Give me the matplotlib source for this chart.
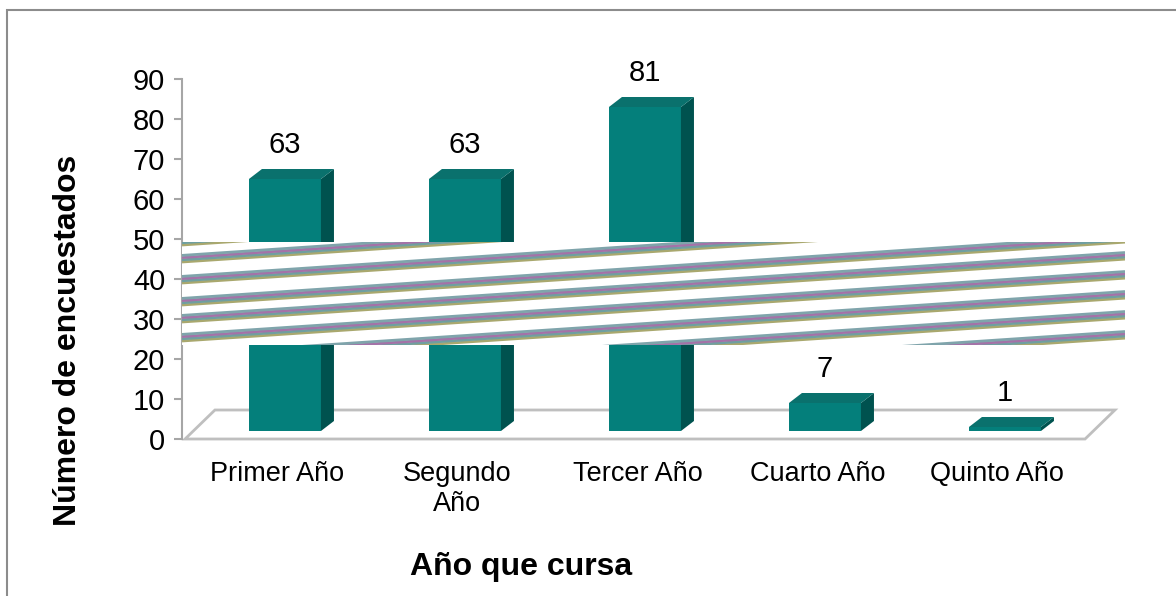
import matplotlib
matplotlib.use('Agg')
import matplotlib.pyplot as plt
from matplotlib.patches import Rectangle, Polygon

plt.rcParams['font.family'] = ['Liberation Sans', 'DejaVu Sans']

categories = ['Primer Año', 'Segundo\nAño', 'Tercer Año', 'Cuarto Año', 'Quinto Año']
values = [63, 63, 81, 7, 1]
y_ticks = [0, 10, 20, 30, 40, 50, 60, 70, 80, 90]
x_title = 'Año que cursa'
y_title = 'Número de encuestados'

# diagonal artefact stripes across the middle of the chart (start heights at left edge)
stripe_starts = [53.5, 48.5, 44.25, 39.0, 33.5, 29.25, 24.5, 19.5, 14.5, 9.5]

W, H = 1176, 596
fig = plt.figure(figsize=(W / 100, H / 100), dpi=100)

# outer frame (only top and left edges are visible in the original)
fig.patches.append(Rectangle((7 / W, -0.1), 1.2, 1 - 10 / H + 0.1,
                             transform=fig.transFigure, fill=False,
                             edgecolor='#8c8c8c', lw=1.5))

ax = fig.add_axes([182 / W, (H - 439) / H, 900 / W, 360 / H])
ax.set_xlim(-0.5, 4.5)
ax.set_ylim(0, 90)
for side in ['top', 'right', 'bottom']:
    ax.spines[side].set_visible(False)
ax.spines['left'].set_color('#a6a6a6')
ax.spines['left'].set_linewidth(1.5)
ax.set_yticks(y_ticks)
ax.tick_params(axis='y', colors='#a6a6a6', labelcolor='black', length=6,
               width=1.5, labelsize=21, pad=6)
ax.set_xticks([i + 0.03 for i in range(len(categories))])
ax.set_xticklabels(categories, fontsize=19.5, linespacing=1.2)
ax.tick_params(axis='x', length=0, pad=16)
for lab in ax.get_xticklabels():
    lab.set_verticalalignment('top')

# floor of the 3-D plot
floor = Polygon([(-0.483, 0), (4.517, 0), (4.683, 7.25), (-0.317, 7.25)],
                closed=True, facecolor='white', edgecolor='#bfbfbf',
                lw=2, zorder=1, clip_on=False)
ax.add_patch(floor)

front_c = '#047f7b'
side_c = '#00524f'
top_c = '#0a716d'
base = 2.0
bw = 0.4
dx = 13 / 180
dy = 2.5
for i, v in enumerate(values):
    x0 = i - 0.128
    top = base + v
    ax.add_patch(Rectangle((x0, base), bw, v, facecolor=front_c,
                           edgecolor='none', zorder=3))
    ax.add_patch(Polygon([(x0 + bw, base), (x0 + bw + dx, base + dy),
                          (x0 + bw + dx, top + dy), (x0 + bw, top)],
                         facecolor=side_c, edgecolor='none', zorder=3))
    ax.add_patch(Polygon([(x0, top), (x0 + dx, top + dy),
                          (x0 + bw + dx, top + dy), (x0 + bw, top)],
                         facecolor=top_c, edgecolor='none', zorder=3))
    ax.text(x0 + bw / 2, top + dy + 2.5, str(v), ha='center', va='bottom',
            fontsize=21, zorder=5)

# white band with striped lines hiding the middle range
band_x1 = (1125 - 182) / 180 - 0.5
band = Rectangle((-0.5, 23.5), band_x1 + 0.5, 49.25 - 23.5,
                 facecolor='white', edgecolor='none', zorder=6, clip_on=False)
ax.add_patch(band)
stripe_cols = ['#a9a86e', '#6f9fa0', '#a472a8', '#7fa4ab']
slope = 3.0
for s in stripe_starts:
    for k, col in enumerate(stripe_cols):
        yy0 = s + k * 0.55
        ln, = ax.plot([-0.5, band_x1], [yy0, yy0 + slope * (band_x1 + 0.5)],
                      color=col, lw=2.0, zorder=7, clip_on=True,
                      solid_capstyle='butt')
        ln.set_clip_path(band)

fig.text(68 / W, 1 - 340 / H, y_title, rotation=90, ha='center', va='center',
         fontsize=23, fontweight='bold')
fig.text(521 / W, 1 - 567 / H, x_title, ha='center', va='center',
         fontsize=23, fontweight='bold')

fig.savefig('out.png', dpi=100, facecolor='white')
